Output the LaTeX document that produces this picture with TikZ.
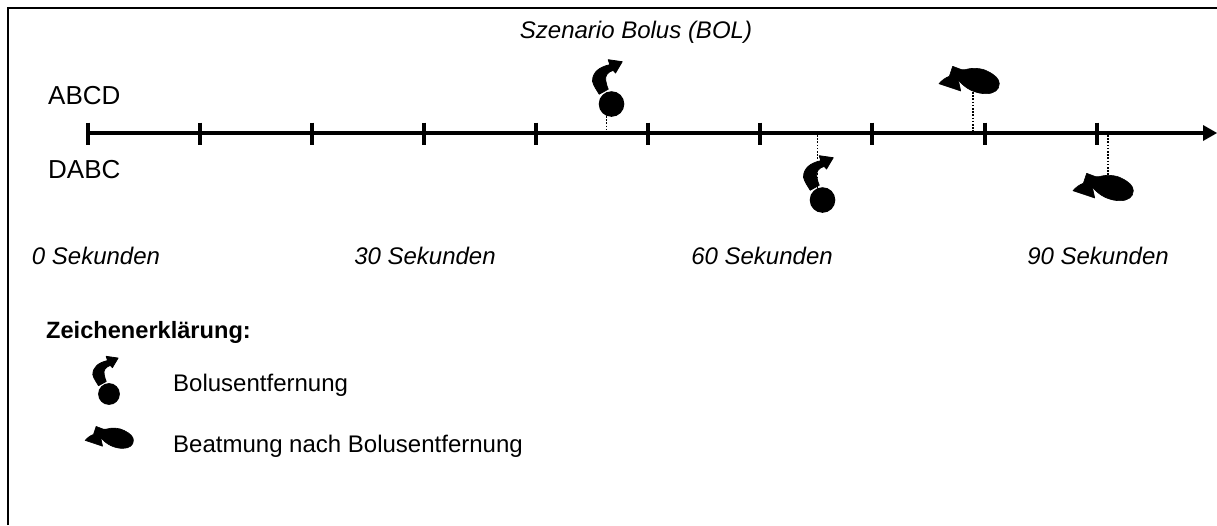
\documentclass[tikz,border=0pt]{standalone}
\usepackage{fontspec}
\setmainfont{Liberation Sans}
\tikzset{
  lbl/.style={inner sep=0pt,font=\fontsize{24}{28}\selectfont},
  ilbl/.style={lbl,font=\fontsize{24}{28}\selectfont\itshape},
  tickmark/.style={line width=3.4pt},
  axisline/.style={line width=4.2pt},
  guide/.style={line width=1.7pt,dash pattern=on 1.5pt off 1.7pt},
  pics/ballarrow/.style={code={
    \fill[black] (0,0) circle (12.8);
    \filldraw[black,line width=.8pt,line join=round] (-19,-22.7) .. controls (-19,-32) and (-12,-37) .. (-1.7,-39.3)
       -- (-3.3,-44.3) -- (10.7,-42.3) -- (4,-31) -- (1.7,-33.7)
       .. controls (-4,-32) and (-7,-28) .. (-5.7,-23)
       .. controls (-5.5,-20) and (-4,-17) .. (-3.3,-14.8)
       -- (-12.3,-9.8) .. controls (-14,-13) and (-18,-18) .. (-19,-22.7) -- cycle;
  }},
  pics/bombshape/.style={code={
    \filldraw[black,line width=.6pt,line join=round] (-27.3,-15.7) -- (-18.3,-12.3) -- (-15,-12.3)
       .. controls (-8,-14.5) and (2,-14) .. (8,-10.5)
       .. controls (15,-7) and (19.3,-3) .. (19.3,1.7)
       .. controls (19.3,8) and (14,11.7) .. (6,11.7)
       .. controls (-4,11.7) and (-15,7) .. (-21.7,-2.3)
       -- (-19.3,9) -- (-41,1.7)
       .. controls (-38,-2) and (-34,-4.5) .. (-30.7,-5.7) -- cycle;
  }}
}
\begin{document}
\begin{tikzpicture}[x=1pt,y=-1pt]
\useasboundingbox (0,0) rectangle (1217,525);
\draw[line width=2.2pt] (8,525) -- (8,8) -- (1217,8);
\node[ilbl] (title) at (636,32.5) {Szenario Bolus (BOL)};
\node[lbl,anchor=west,font=\fontsize{26}{30}\selectfont] (abcd) at (48,96) {ABCD};
\node[lbl,anchor=west,font=\fontsize{26}{30}\selectfont] (dabc) at (48,170) {DABC};
\coordinate (axs) at (88,133);
\coordinate (axe) at (1217,133);
\draw[axisline] (axs) -- (1204,133);
\fill[black] (1203,125) -- (1217,133) -- (1203,141) -- cycle;
\foreach \tx in {88,200,312,424,536,648,760,872,985,1097}
  \draw[tickmark] (\tx,122.5) -- (\tx,144.5);
\draw[guide] (606.5,116) -- (606.5,131);
\draw[guide] (973,92) -- (973,131);
\draw[guide] (817.5,135) -- (817.5,189);
\draw[guide] (1108,135) -- (1108,180);
\pic at (611.5,104) {ballarrow};
\pic at (822.5,200) {ballarrow};
\pic at (980,82) {bombshape};
\pic at (1114,189) {bombshape};
\node[ilbl] (t0) at (96,255.5) {0 Sekunden};
\node[ilbl] (t30) at (425,255.5) {30 Sekunden};
\node[ilbl] (t60) at (762,255.5) {60 Sekunden};
\node[ilbl] (t90) at (1098,255.5) {90 Sekunden};
\node[lbl,anchor=west,font=\fontsize{23.6}{28}\selectfont\bfseries] (zk) at (46,332) {Zeichenerklärung:};
\pic[scale=.85] at (109,394) {ballarrow};
\pic[scale=.8] at (118,439) {bombshape};
\node[lbl,anchor=west] (k1) at (173,385.5) {Bolusentfernung};
\node[lbl,anchor=west] (k2) at (173,446.5) {Beatmung nach Bolusentfernung};
\end{tikzpicture}
\end{document}
